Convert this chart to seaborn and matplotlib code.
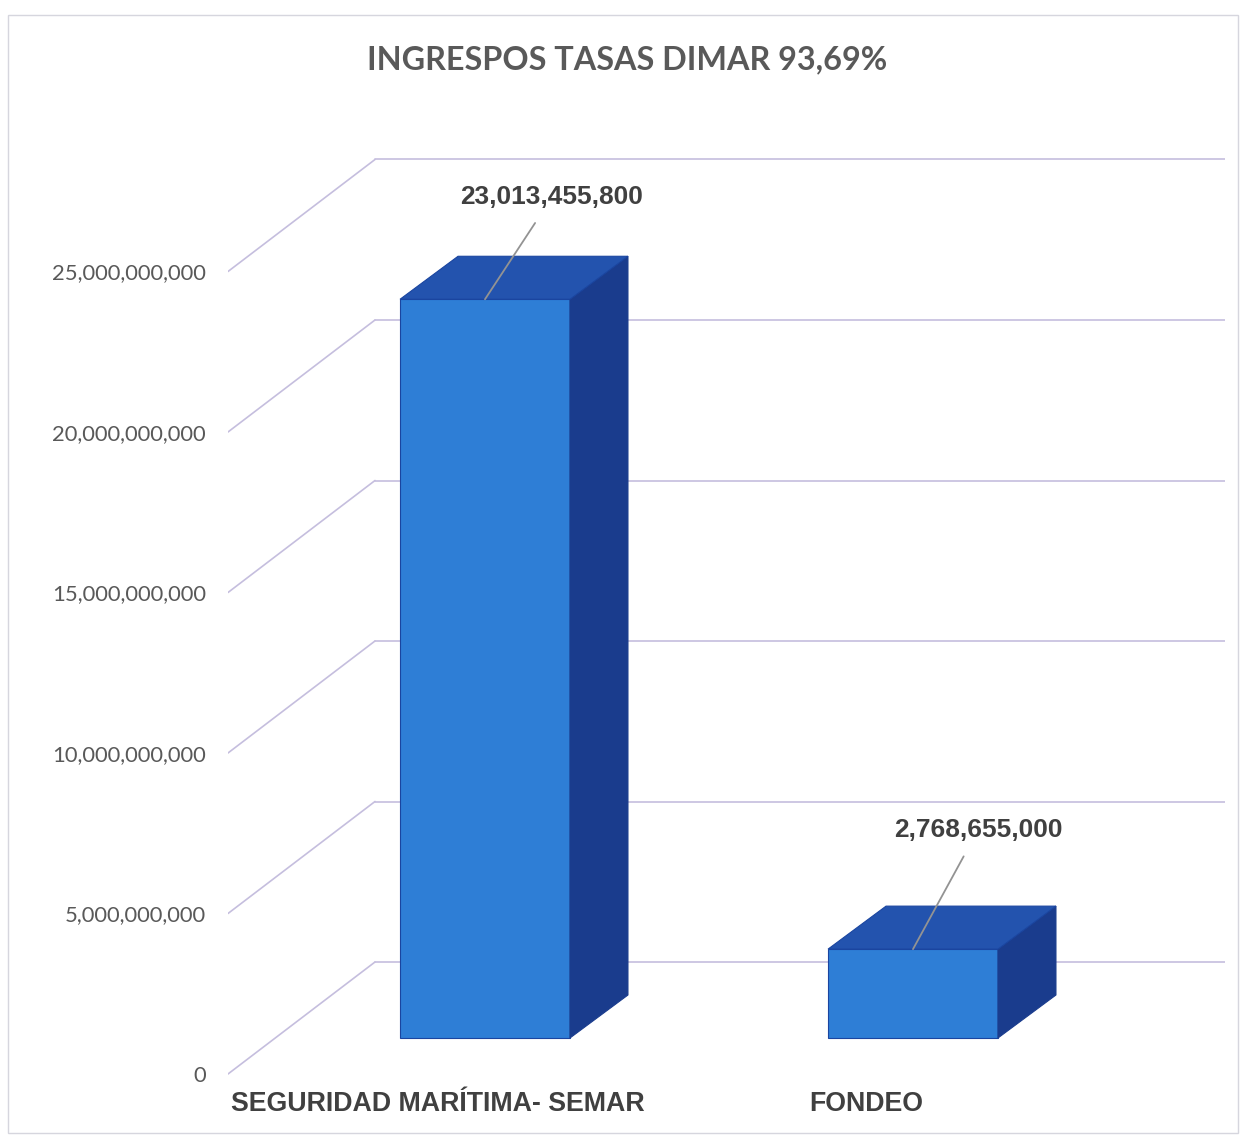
import numpy as np
import pandas as pd
import matplotlib
matplotlib.use("Agg")
import matplotlib.pyplot as plt
from matplotlib.patches import Rectangle
import seaborn as sns

# ---- data ----
categorias = ["SEGURIDAD MARÍTIMA- SEMAR", "FONDEO"]
valores = [23013455800, 2768655000]
etiquetas = ["23,013,455,800", "2,768,655,000"]
ticks_y = [0, 5e9, 10e9, 15e9, 20e9, 25e9]
titulo = "INGRESPOS TASAS DIMAR 93,69%"

# label offsets (pixels) relative to bar top – styling
label_offsets = [(67, 102), (65, 119)]

# ---- style ----
sns.set_style("white")
plt.rcParams["font.family"] = ["Liberation Sans", "DejaVu Sans"]

W, H = 1243, 1137
fig = plt.figure(figsize=(W / 100, H / 100), dpi=100)
fig.patch.set_facecolor("white")

ax_l, ax_r, ax_top, ax_bot = 228, 1225, 100, 1080
ax = fig.add_axes([ax_l / W, 1 - ax_bot / H, (ax_r - ax_l) / W, (ax_bot - ax_top) / H])

px_per_unit = 32.1e-9
base_px = 1038
cat_px0, cat_step = 485, 428
xlim = ((ax_l - cat_px0) / cat_step, (ax_r - cat_px0) / cat_step)
ylim = ((base_px - ax_bot) / px_per_unit, (base_px - ax_top) / px_per_unit)

FRONT_DX, FRONT_DY = -47 / cat_step, -36 / px_per_unit
BAR_DX, BAR_DY = 58 / cat_step, 43 / px_per_unit
WALL_DX, WALL_DY = 100 / cat_step, 76 / px_per_unit

FRONT_C = "#2E7ED6"
TOP_C = "#2353AE"
SIDE_C = "#1A3C8D"
EDGE_C = "#1A45A0"
GRID_C = "#C5BEDE"

df = pd.DataFrame({"categoria": categorias, "valor": valores})
sns.barplot(data=df, x="categoria", y="valor", order=categorias, color=FRONT_C,
            saturation=1, width=0.397, ax=ax, zorder=3, edgecolor=EDGE_C, linewidth=0.8)

x_front_left = xlim[0]
for t in ticks_y:
    y0 = t + FRONT_DY
    x1 = x_front_left + (WALL_DX - FRONT_DX)
    y1 = t + WALL_DY
    ax.plot([x_front_left, x1], [y0, y1], color=GRID_C, lw=1.2, zorder=0.5)
    ax.plot([x1, xlim[1]], [y1, y1], color=GRID_C, lw=1.2, zorder=0.5)

w = 0.397
for i, p in enumerate(ax.patches[:len(valores)]):
    xc = p.get_x() + p.get_width() / 2
    v = p.get_height()
    xl, xr = xc - w / 2, xc + w / 2
    top = [(xl, v), (xr, v), (xr + BAR_DX, v + BAR_DY), (xl + BAR_DX, v + BAR_DY)]
    side = [(xr, 0), (xr, v), (xr + BAR_DX, v + BAR_DY), (xr + BAR_DX, BAR_DY)]
    ax.fill(*zip(*side), color=SIDE_C, zorder=3.5, ec=SIDE_C, lw=0.8)
    ax.fill(*zip(*top), color=TOP_C, zorder=3.6, ec=EDGE_C, lw=0.8)
    ax.annotate(etiquetas[i], xy=(xc, v), xytext=label_offsets[i], textcoords="offset pixels",
                ha="center", va="center", fontsize=18.9, fontweight="bold", color="#404040",
                arrowprops=dict(arrowstyle="-", color="#939393", lw=1.3,
                                shrinkA=9, shrinkB=0), zorder=5)

ax.set_xlim(*xlim)
ax.set_ylim(*ylim)

ax.set_yticks([t + FRONT_DY for t in ticks_y], labels=[f"{t:,.0f}" for t in ticks_y])
ax.set_xticks([i + FRONT_DX for i in range(len(categorias))], labels=categorias)
ax.tick_params(axis="y", length=0, pad=16, labelsize=15.8, labelcolor="#595959")
ax.tick_params(axis="x", length=0, pad=8, labelsize=19.3, labelcolor="#404040")
for lab in ax.get_yticklabels():
    lab.set_fontfamily(["Lato", "DejaVu Sans"])
for lab in ax.get_xticklabels():
    lab.set_fontweight("bold")
ax.set_xlabel("")
ax.set_ylabel("")
for s in ax.spines.values():
    s.set_visible(False)
ax.patch.set_alpha(0)

fig.text(627 / W, 1 - 60 / H, titulo, ha="center", va="center", fontsize=23.3,
         fontweight="bold", color="#595959", family=["Lato", "DejaVu Sans"])

fig.add_artist(Rectangle((8 / W, 1 - 1133 / H), (1238 - 8) / W, (1133 - 15) / H,
                         transform=fig.transFigure, fill=False, ec="#D6D6DE", lw=1))

fig.savefig("out.png", dpi=100)
